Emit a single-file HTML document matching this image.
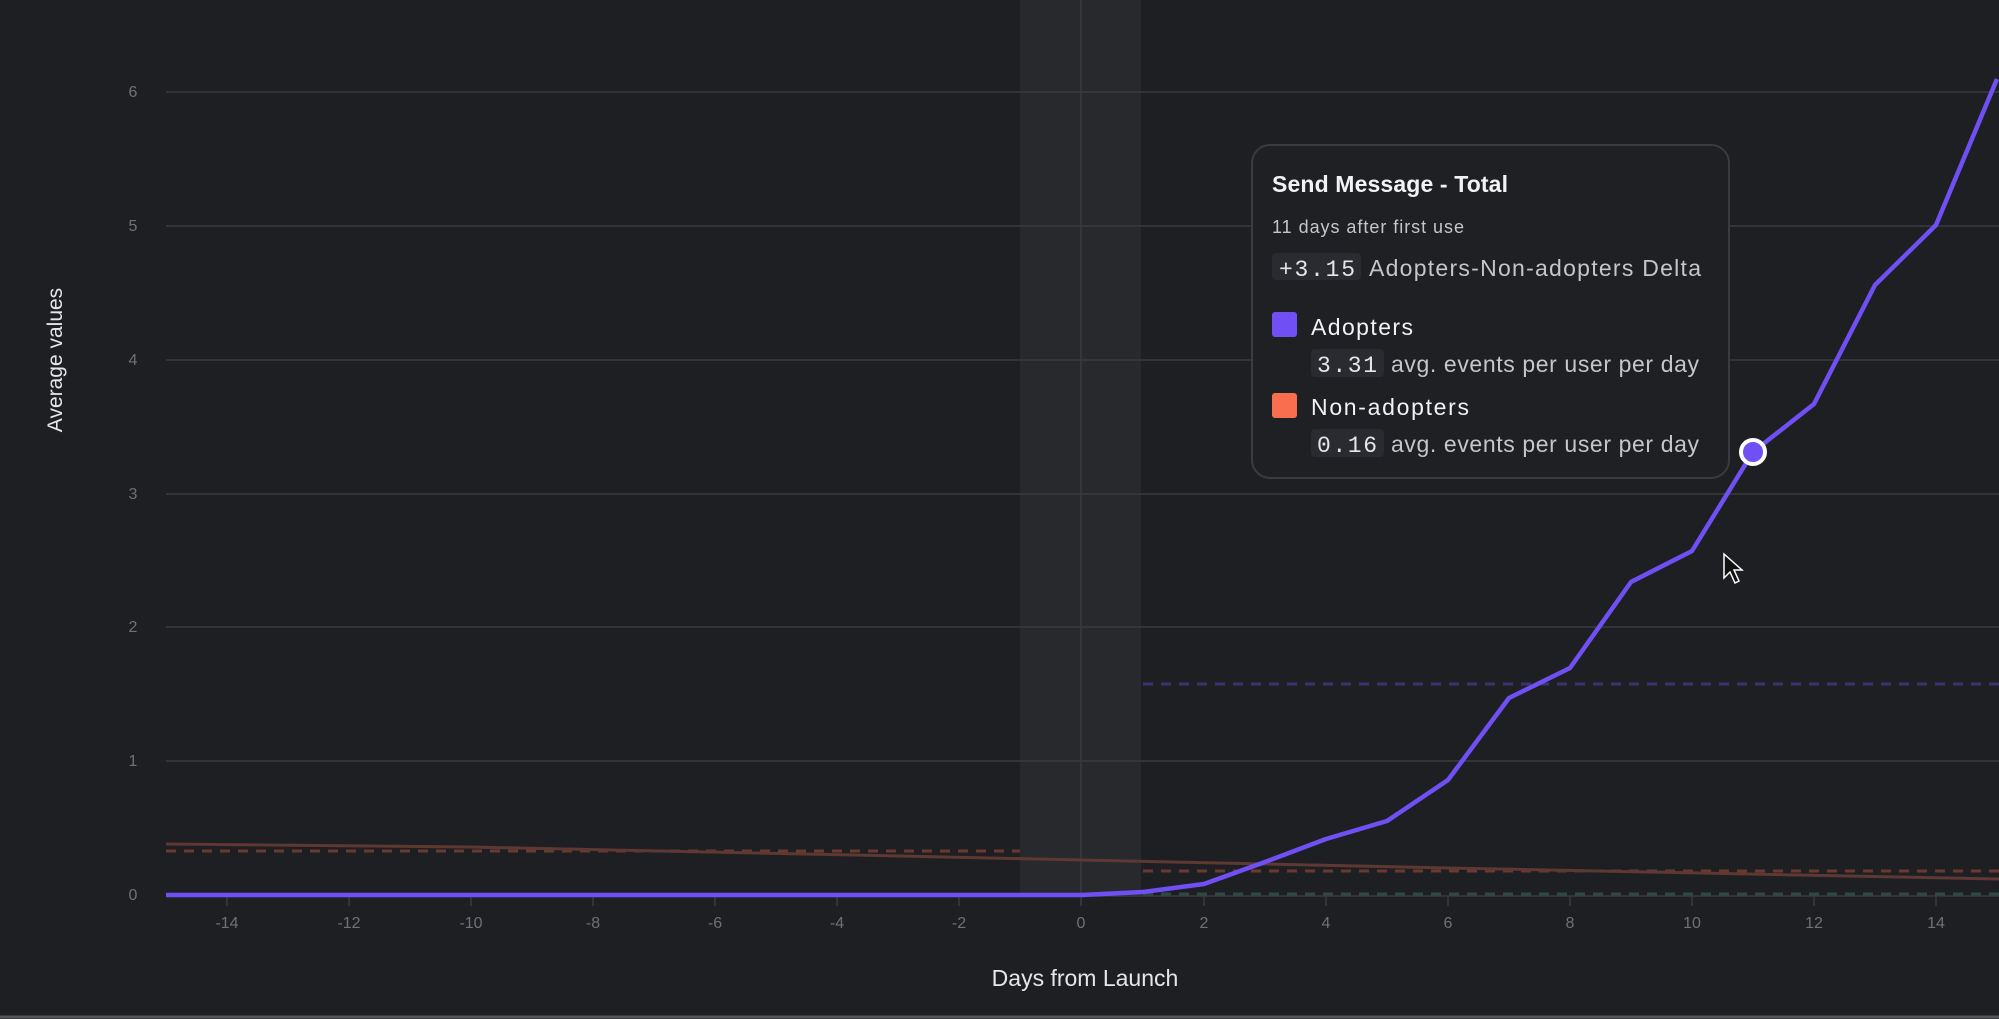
<!DOCTYPE html>
<html><head><meta charset="utf-8"><style>
html,body{margin:0;padding:0;background:#1e1f23;}
svg{display:block;font-family:"Liberation Sans",sans-serif;}
</style></head><body>
<svg width="1999" height="1019" viewBox="0 0 1999 1019" xmlns="http://www.w3.org/2000/svg">
<rect width="1999" height="1019" fill="#1e1f23"/>
<rect x="1020" y="0" width="121" height="895" fill="#28292d"/>
<line x1="1081" y1="0" x2="1081" y2="895" stroke="#3a3b3f" stroke-width="1.5"/>
<g stroke="#3a3b3f" stroke-width="1.5">
<line x1="166" y1="761" x2="1999" y2="761"/>
<line x1="166" y1="627" x2="1999" y2="627"/>
<line x1="166" y1="494" x2="1999" y2="494"/>
<line x1="166" y1="360" x2="1999" y2="360"/>
<line x1="166" y1="226" x2="1999" y2="226"/>
<line x1="166" y1="92" x2="1999" y2="92"/>
<line x1="166" y1="896" x2="1999" y2="896"/>
</g>
<g fill="#707176" font-size="16" text-anchor="middle">
<text x="133" y="900">0</text><text x="133" y="766">1</text><text x="133" y="632">2</text><text x="133" y="499">3</text><text x="133" y="365">4</text><text x="133" y="231">5</text><text x="133" y="97">6</text>
</g>
<g stroke="#3a3b3f" stroke-width="1.5">
<line x1="227" y1="896" x2="227" y2="906"/><line x1="349" y1="896" x2="349" y2="906"/><line x1="471" y1="896" x2="471" y2="906"/><line x1="593" y1="896" x2="593" y2="906"/><line x1="715" y1="896" x2="715" y2="906"/><line x1="837" y1="896" x2="837" y2="906"/><line x1="959" y1="896" x2="959" y2="906"/><line x1="1081" y1="896" x2="1081" y2="906"/><line x1="1204" y1="896" x2="1204" y2="906"/><line x1="1326" y1="896" x2="1326" y2="906"/><line x1="1448" y1="896" x2="1448" y2="906"/><line x1="1570" y1="896" x2="1570" y2="906"/><line x1="1692" y1="896" x2="1692" y2="906"/><line x1="1814" y1="896" x2="1814" y2="906"/><line x1="1936" y1="896" x2="1936" y2="906"/>
</g>
<g fill="#707176" font-size="16" text-anchor="middle">
<text x="227" y="928">-14</text><text x="349" y="928">-12</text><text x="471" y="928">-10</text><text x="593" y="928">-8</text><text x="715" y="928">-6</text><text x="837" y="928">-4</text><text x="959" y="928">-2</text><text x="1081" y="928">0</text><text x="1204" y="928">2</text><text x="1326" y="928">4</text><text x="1448" y="928">6</text><text x="1570" y="928">8</text><text x="1692" y="928">10</text><text x="1814" y="928">12</text><text x="1936" y="928">14</text>
</g>
<text x="1085" y="986" fill="#e6e6e8" font-size="23" text-anchor="middle">Days from Launch</text>
<text transform="translate(62,360) rotate(-90)" fill="#e6e6e8" font-size="21" text-anchor="middle">Average values</text>
<line x1="166" y1="851" x2="1020" y2="851" stroke="#6a3a30" stroke-width="3" stroke-dasharray="10 8"/>
<line x1="1143" y1="871" x2="1999" y2="871" stroke="#6a3a30" stroke-width="3" stroke-dasharray="10 8"/>
<line x1="1143" y1="684" x2="1999" y2="684" stroke="#3a3370" stroke-width="3" stroke-dasharray="10 8"/>
<line x1="1143" y1="894" x2="1999" y2="894" stroke="#2f4a44" stroke-width="3" stroke-dasharray="10 8"/>
<polyline fill="none" stroke="#5e3832" stroke-width="3" points="166,844 470,847 900,856 1082,860 1448,868 1999,879"/>
<polyline fill="none" stroke="#7050f5" stroke-width="4.5" stroke-linejoin="round" points="166,895 1082,895 1143,892 1204,884 1265,862 1326,839 1387,821 1448,780 1509,698 1570,668 1631,582 1692,551 1753,452 1814,404 1875,285 1936,225 1997,79"/>
<circle cx="1753" cy="452" r="12" fill="#7050f5" stroke="#ffffff" stroke-width="4"/>
<path d="M1724,554 L1724,578 L1730,572 L1735,583 L1739,581 L1734,570 L1742,570 Z" fill="#111" stroke="#fff" stroke-width="1.5"/>
<rect x="1252" y="145" width="477" height="333" rx="18" fill="#1f2024" stroke="#3a3b3f" stroke-width="2"/>
<text x="1272" y="192" fill="#f2f2f4" font-size="23" font-weight="bold" textLength="236">Send Message - Total</text>
<text x="1272" y="233" fill="#c6c6ca" font-size="18" textLength="192">11 days after first use</text>
<rect x="1272" y="253" width="89" height="27" rx="4" fill="#2a2b30"/>
<text x="1279" y="276" fill="#e6e6e8" font-size="23" font-family="Liberation Mono, monospace" textLength="76">+3.15</text>
<text x="1369" y="276" fill="#c6c6ca" font-size="23" textLength="332">Adopters-Non-adopters Delta</text>
<rect x="1272" y="312" width="25" height="25" rx="3" fill="#7050f5"/>
<text x="1311" y="335" fill="#f2f2f4" font-size="23" textLength="102">Adopters</text>
<rect x="1311" y="349" width="73" height="28" rx="4" fill="#2a2b30"/>
<text x="1317" y="372" fill="#e6e6e8" font-size="23" font-family="Liberation Mono, monospace" textLength="60">3.31</text>
<text x="1391" y="372" fill="#c6c6ca" font-size="23" textLength="308">avg. events per user per day</text>
<rect x="1272" y="393" width="25" height="25" rx="3" fill="#fa6e50"/>
<text x="1311" y="415" fill="#f2f2f4" font-size="23" textLength="158">Non-adopters</text>
<rect x="1311" y="429" width="73" height="28" rx="4" fill="#2a2b30"/>
<text x="1317" y="452" fill="#e6e6e8" font-size="23" font-family="Liberation Mono, monospace" textLength="60">0.16</text>
<text x="1391" y="452" fill="#c6c6ca" font-size="23" textLength="308">avg. events per user per day</text>
<line x1="0" y1="1017" x2="1999" y2="1017" stroke="#55565a" stroke-width="3"/>
</svg>
</body></html>
